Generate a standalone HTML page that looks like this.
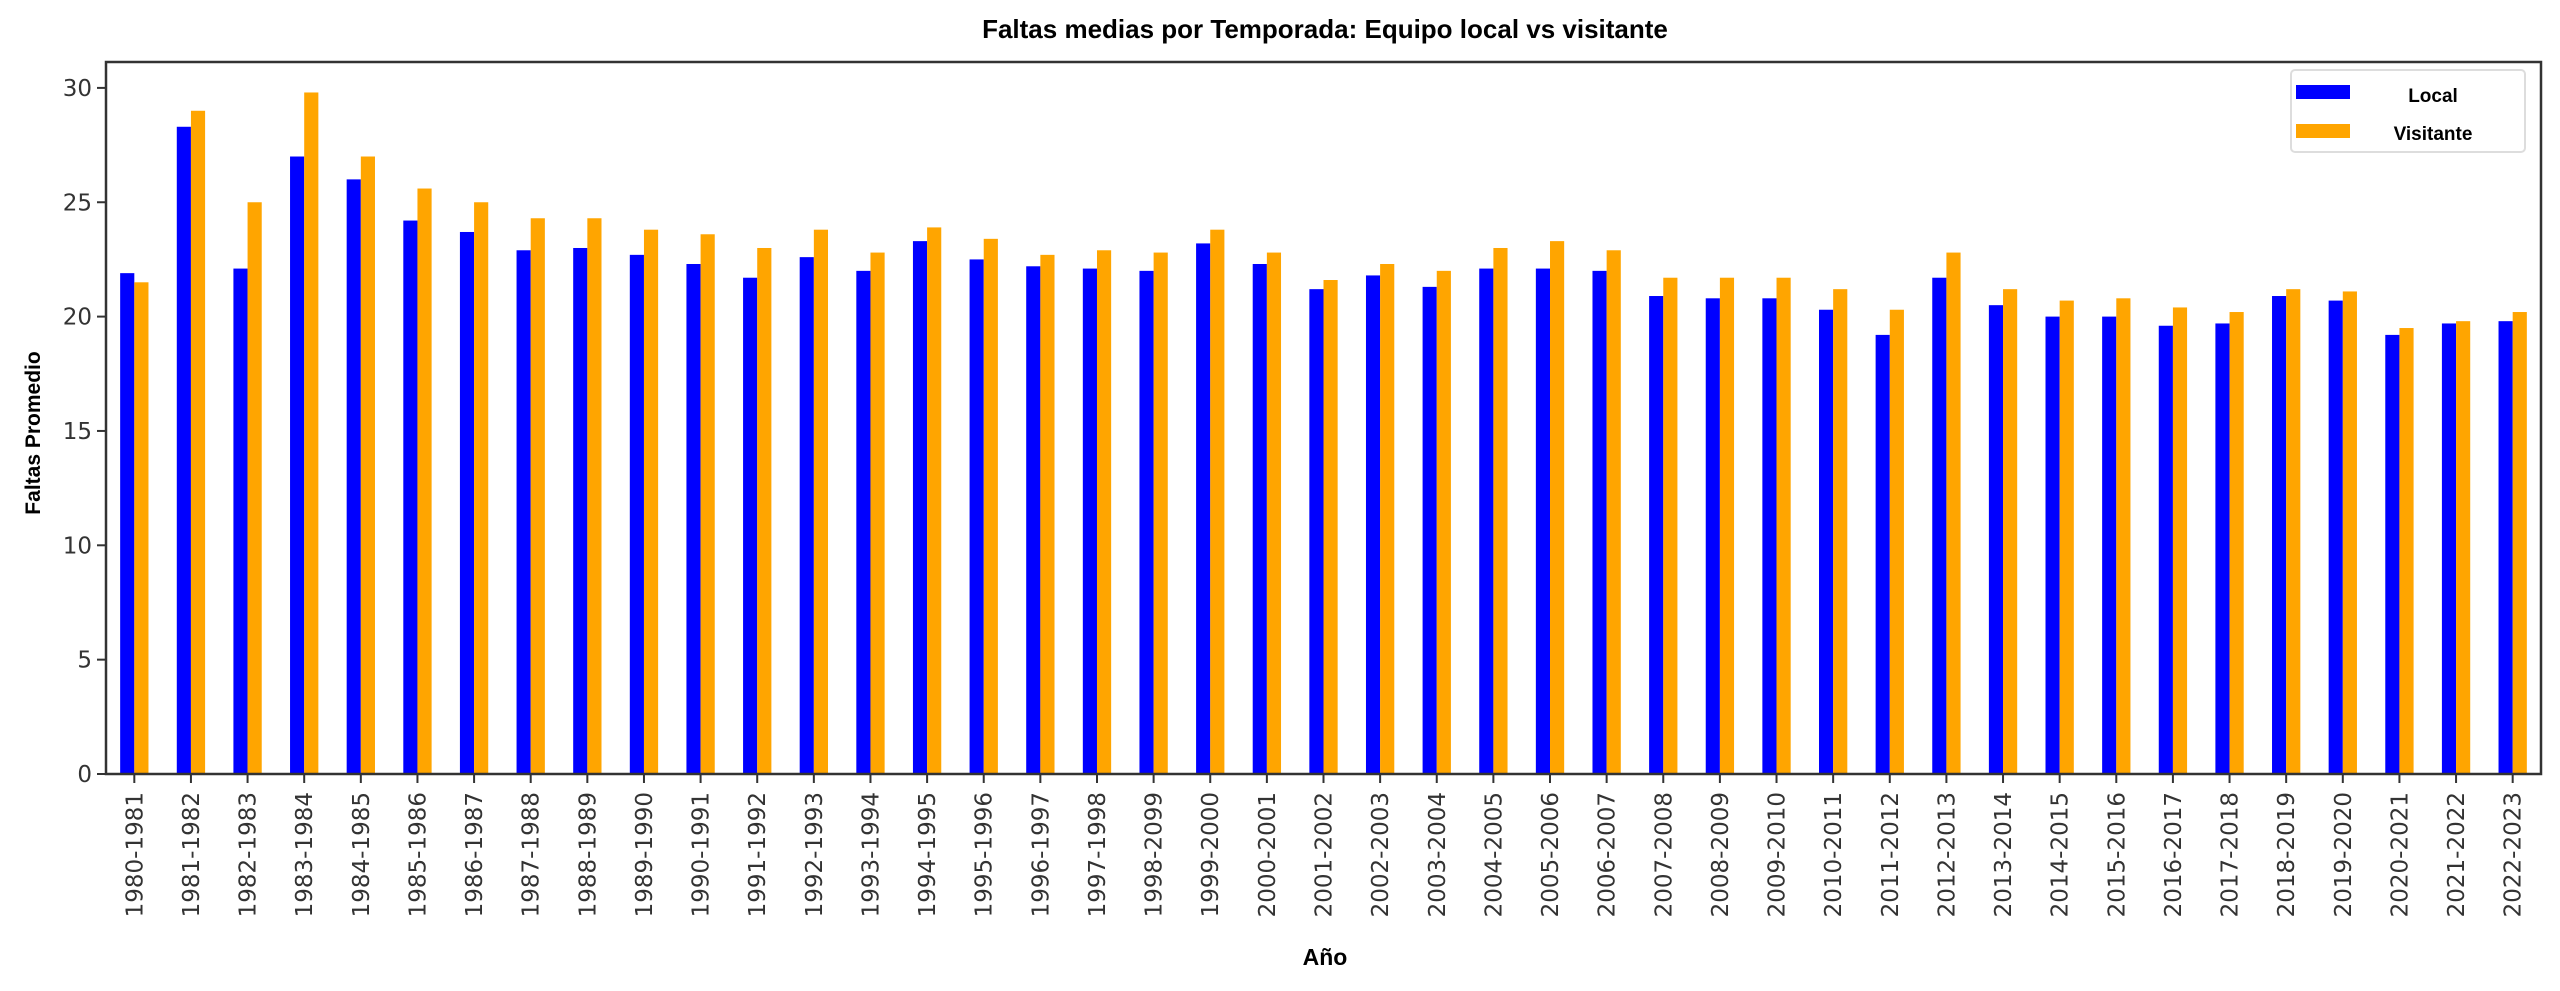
<!DOCTYPE html>
<html><head><meta charset="utf-8"><style>
html,body{margin:0;padding:0;background:#fff;}
svg{display:block;font-family:"Liberation Sans","DejaVu Sans",sans-serif;}
.tk{font-family:"DejaVu Sans","Liberation Sans",sans-serif;}
</style></head><body>
<svg id="chart" width="2560" height="991" viewBox="0 0 2560 991">
<text x="1325" y="38" text-anchor="middle" font-size="26" font-weight="bold" fill="#000">Faltas medias por Temporada: Equipo local vs visitante</text>
<g id="bars"></g>
<g id="axes"></g>
<rect x="106" y="62" width="2435" height="712" fill="none" stroke="#333" stroke-width="2.5"/>
<text transform="translate(40,433) rotate(-90)" text-anchor="middle" font-size="21" font-weight="bold" fill="#000">Faltas Promedio</text>
<text x="1325" y="965" text-anchor="middle" font-size="23" font-weight="bold" fill="#000">Año</text>
<g>
<rect x="2291" y="70" width="234" height="82" rx="4" fill="#fff" stroke="#ddd" stroke-width="2"/>
<rect x="2296" y="85" width="54" height="14" fill="#0000ff"/>
<text x="2433" y="102" text-anchor="middle" font-size="19" font-weight="bold" fill="#000">Local</text>
<rect x="2296" y="124" width="54" height="14" fill="#ffa500"/>
<text x="2433" y="140" text-anchor="middle" font-size="19" font-weight="bold" fill="#000">Visitante</text>
</g>
</svg>
<script>
const seasons = ["1980-1981","1981-1982","1982-1983","1983-1984","1984-1985","1985-1986","1986-1987","1987-1988","1988-1989","1989-1990","1990-1991","1991-1992","1992-1993","1993-1994","1994-1995","1995-1996","1996-1997","1997-1998","1998-2099","1999-2000","2000-2001","2001-2002","2002-2003","2003-2004","2004-2005","2005-2006","2006-2007","2007-2008","2008-2009","2009-2010","2010-2011","2011-2012","2012-2013","2013-2014","2014-2015","2015-2016","2016-2017","2017-2018","2018-2019","2019-2020","2020-2021","2021-2022","2022-2023"];
const localValues = [21.9,28.3,22.1,27.0,26.0,24.2,23.7,22.9,23.0,22.7,22.3,21.7,22.6,22.0,23.3,22.5,22.2,22.1,22.0,23.2,22.3,21.2,21.8,21.3,22.1,22.1,22.0,20.9,20.8,20.8,20.3,19.2,21.7,20.5,20.0,20.0,19.6,19.7,20.9,20.7,19.2,19.7,19.8];
const visitanteValues = [21.5,29.0,25.0,29.8,27.0,25.6,25.0,24.3,24.3,23.8,23.6,23.0,23.8,22.8,23.9,23.4,22.7,22.9,22.8,23.8,22.8,21.6,22.3,22.0,23.0,23.3,22.9,21.7,21.7,21.7,21.2,20.3,22.8,21.2,20.7,20.8,20.4,20.2,21.2,21.1,19.5,19.8,20.2];
const yTicks = [0,5,10,15,20,25,30];

const NS="http://www.w3.org/2000/svg";
const L=106,R=2541,B=774,PX=22.87;
const step=(R-L)/seasons.length;
const xC=i=>L+step*(i+0.5);
const yS=v=>B-v*PX;
const bw=step*0.25;
const bars=document.getElementById('bars'), axes=document.getElementById('axes');
function mk(t,a){const e=document.createElementNS(NS,t);for(const k in a)e.setAttribute(k,a[k]);return e;}
seasons.forEach((s,i)=>{
  const b1=mk('rect',{x:xC(i)-bw,y:yS(localValues[i]),width:bw,height:B-yS(localValues[i]),fill:'#0000ff'});
  
  
  bars.appendChild(b1);
  const b2=mk('rect',{x:xC(i),y:yS(visitanteValues[i]),width:bw,height:B-yS(visitanteValues[i]),fill:'#ffa500'});
  
  
  bars.appendChild(b2);
  const tk=mk('line',{x1:xC(i),x2:xC(i),y1:B,y2:B+9,stroke:'#333','stroke-width':2});
  
  
  axes.appendChild(tk);
  const tl=mk('text',{class:'tk',transform:`translate(${xC(i)+8},${B+18}) rotate(-90)`,'text-anchor':'end','font-size':23,fill:'#333'});
  tl.textContent=s;
  
  
  axes.appendChild(tl);
});
yTicks.forEach(v=>{
  const tk=mk('line',{x1:L-9,x2:L,y1:yS(v),y2:yS(v),stroke:'#333','stroke-width':2});
  
  
  axes.appendChild(tk);
  const tl=mk('text',{class:'tk',x:L-14,y:yS(v)+8,'text-anchor':'end','font-size':23,fill:'#333'});
  tl.textContent=v;
  
  
  axes.appendChild(tl);
});
</script>
</body></html>
